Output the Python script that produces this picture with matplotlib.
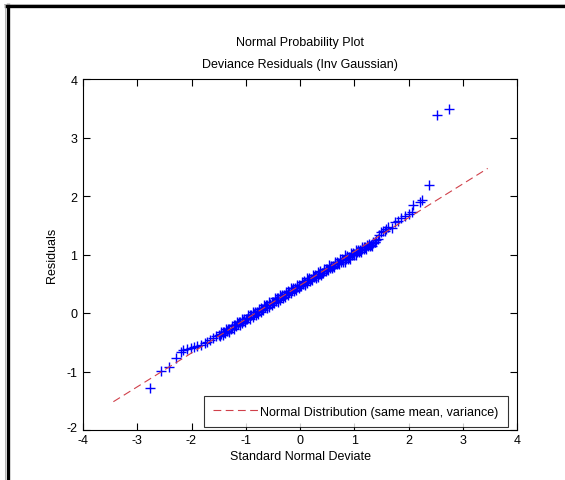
import numpy as np
import matplotlib.pyplot as plt
import matplotlib.transforms as mtransforms
from matplotlib.lines import Line2D

plt.rcParams['font.family'] = ['Liberation Sans', 'DejaVu Sans']
plt.rcParams['font.size'] = 9
plt.rcParams['axes.unicode_minus'] = False

# ---------------------------------------------------------
# data (standard normal deviate, residual)
# ---------------------------------------------------------
low_tail_x = [-2.77, -2.56, -2.41, -2.29, -2.19]
low_tail_y = [-1.28, -0.99, -0.93, -0.77, -0.66]

shelf_x = [-2.15, -2.08, -2.015, -1.95, -1.89, -1.83, -1.76, -1.71, -1.66, -1.60, -1.54]
shelf_y = [-0.63, -0.61, -0.60, -0.58, -0.56, -0.54, -0.51, -0.49, -0.47, -0.43, -0.40]

band_x = [-1.50, -1.45, -1.40, -1.35, -1.30, -1.25, -1.20, -1.15, -1.10, -1.05,
          -1.00, -0.95, -0.90, -0.85, -0.80, -0.75, -0.70, -0.65, -0.60, -0.55,
          -0.50, -0.45, -0.40, -0.35, -0.30, -0.25, -0.20, -0.15, -0.10, -0.05,
          0.00, 0.05, 0.10, 0.15, 0.20, 0.25, 0.30, 0.35, 0.40, 0.45,
          0.50, 0.55, 0.60, 0.65, 0.70, 0.75, 0.80, 0.85, 0.90, 0.95,
          1.00, 1.05, 1.10, 1.15, 1.20, 1.25, 1.30, 1.35, 1.40]
band_y = [-0.38, -0.36, -0.33, -0.31, -0.27, -0.25, -0.21, -0.19, -0.16, -0.14,
          -0.10, -0.08, -0.04, -0.02, 0.02, 0.04, 0.07, 0.10, 0.13, 0.15,
          0.19, 0.21, 0.25, 0.27, 0.31, 0.33, 0.36, 0.39, 0.42, 0.44,
          0.47, 0.50, 0.52, 0.56, 0.58, 0.61, 0.64, 0.66, 0.69, 0.72,
          0.75, 0.77, 0.80, 0.83, 0.85, 0.88, 0.91, 0.93, 0.96, 0.99,
          1.01, 1.04, 1.07, 1.09, 1.12, 1.15, 1.17, 1.20, 1.24]

band2_x = [-1.475, -1.425, -1.375, -1.325, -1.275, -1.225, -1.175, -1.125, -1.075, -1.025,
           -0.975, -0.925, -0.875, -0.825, -0.775, -0.725, -0.675, -0.625, -0.575, -0.525,
           -0.475, -0.425, -0.375, -0.325, -0.275, -0.225, -0.175, -0.125, -0.075, -0.025,
           0.025, 0.075, 0.125, 0.175, 0.225, 0.275, 0.325, 0.375, 0.425, 0.475,
           0.525, 0.575, 0.625, 0.675, 0.725, 0.775, 0.825, 0.875, 0.925, 0.975,
           1.025, 1.075, 1.125, 1.175, 1.225, 1.275, 1.325, 1.375]
band2_y = [-0.40, -0.33, -0.34, -0.27, -0.28, -0.21, -0.22, -0.15, -0.17, -0.10,
           -0.11, -0.03, -0.06, 0.02, -0.01, 0.08, 0.05, 0.14, 0.11, 0.19,
           0.17, 0.25, 0.23, 0.31, 0.28, 0.37, 0.34, 0.43, 0.40, 0.48,
           0.46, 0.54, 0.51, 0.60, 0.57, 0.65, 0.62, 0.71, 0.68, 0.76,
           0.73, 0.81, 0.78, 0.87, 0.83, 0.92, 0.88, 0.97, 0.93, 1.02,
           0.99, 1.08, 1.04, 1.13, 1.10, 1.18, 1.14, 1.21]

band3_x = [-1.4625, -1.4125, -1.3625, -1.3125, -1.2625, -1.2125, -1.1625, -1.1125, -1.0625, -1.0125,
           -0.9625, -0.9125, -0.8625, -0.8125, -0.7625, -0.7125, -0.6625, -0.6125, -0.5625, -0.5125,
           -0.4625, -0.4125, -0.3625, -0.3125, -0.2625, -0.2125, -0.1625, -0.1125, -0.0625, -0.0125,
           0.0375, 0.0875, 0.1375, 0.1875, 0.2375, 0.2875, 0.3375, 0.3875, 0.4375, 0.4875,
           0.5375, 0.5875, 0.6375, 0.6875, 0.7375, 0.7875, 0.8375, 0.8875, 0.9375, 0.9875,
           1.0375, 1.0875, 1.1375, 1.1875, 1.2375, 1.2875, 1.3375, 1.3875]
band3_y = [-0.33, -0.38, -0.28, -0.33, -0.22, -0.27, -0.16, -0.21, -0.10, -0.15,
           -0.04, -0.10, 0.01, -0.04, 0.07, 0.02, 0.13, 0.08, 0.19, 0.14,
           0.25, 0.19, 0.30, 0.25, 0.36, 0.31, 0.42, 0.37, 0.48, 0.42,
           0.53, 0.48, 0.59, 0.54, 0.65, 0.60, 0.70, 0.65, 0.76, 0.71,
           0.82, 0.77, 0.87, 0.83, 0.93, 0.88, 0.99, 0.93, 1.03, 0.99,
           1.08, 1.05, 1.13, 1.10, 1.17, 1.15, 1.21, 1.22]

up_tail_x = [1.43, 1.46, 1.49, 1.535, 1.56, 1.58, 1.63, 1.69, 1.75, 1.81, 1.87,
             1.935, 2.00, 2.06, 2.09, 2.21, 2.24, 2.38, 2.52, 2.75]
up_tail_y = [1.27, 1.33, 1.38, 1.41, 1.40, 1.44, 1.47, 1.45, 1.55, 1.58, 1.62,
             1.66, 1.69, 1.72, 1.85, 1.89, 1.94, 2.18, 3.38, 3.49]

# reference normal line: same mean, variance
fit_x = [-3.44, 3.46]
fit_mean = 0.472
fit_std = 0.578

x = np.concatenate([low_tail_x, shelf_x, band_x, band2_x, band3_x, up_tail_x])
y = np.concatenate([low_tail_y, shelf_y, band_y, band2_y, band3_y, up_tail_y])

fig = plt.figure(figsize=(5.65, 4.81), dpi=100)
ax = fig.add_axes([83 / 565, 1 - 431 / 481, 434 / 565, 351 / 481])

ax.plot(x, y, '+', color='blue', markersize=7, markeredgewidth=1.0, zorder=3)
fx = np.array(fit_x)
ax.plot(fx, fit_mean + fit_std * fx, color='#d0404a', linewidth=0.8,
        dashes=(7, 4), label='Normal Distribution (same mean, variance)', zorder=4)

ax.set_xlim(-4, 4)
ax.set_ylim(-2, 4)
ax.set_xticks(range(-4, 5))
ax.set_yticks(range(-2, 5))
ax.tick_params(direction='in', length=5, width=0.8, top=True, right=True)
ax.tick_params(axis='x', pad=3)
ax.tick_params(axis='y', pad=4)
for s in ax.spines.values():
    s.set_linewidth(0.8)

# nudge the lowest y label up so it clears the "-4" below it
fig.canvas.draw()
lab = ax.get_yticklabels()[0]
lab.set_transform(lab.get_transform() + mtransforms.ScaledTranslation(0, 3 / 100, fig.dpi_scale_trans))

ax.set_xlabel('Standard Normal Deviate', labelpad=3)
ax.set_ylabel('Residuals', labelpad=6)

leg = ax.legend(loc='lower right', bbox_to_anchor=((508 - 83) / 434, (431 - 428) / 351),
                frameon=True, fancybox=False, handlelength=3.6, handletextpad=0.2,
                borderpad=0.75, borderaxespad=0)
leg.get_frame().set_edgecolor('black')
leg.get_frame().set_linewidth(0.8)

fig.text(300 / 565, 1 - 43 / 481, 'Normal Probability Plot', ha='center', va='center')
fig.text(300 / 565, 1 - 65 / 481, 'Deviance Residuals (Inv Gaussian)', ha='center', va='center')

# outer frame (top and left edges only)
fig.add_artist(Line2D([6 / 565, 1], [1 - 7 / 481, 1 - 7 / 481], transform=fig.transFigure,
                      color='black', linewidth=2.4))
fig.add_artist(Line2D([8 / 565, 8 / 565], [0, 1 - 6 / 481], transform=fig.transFigure,
                      color='black', linewidth=2.4))
fig.add_artist(Line2D([4 / 565, 1], [1 - 4.5 / 481, 1 - 4.5 / 481], transform=fig.transFigure,
                      color='#aaaaaa', linewidth=0.6))
fig.add_artist(Line2D([5 / 565, 5 / 565], [0, 1 - 4.5 / 481], transform=fig.transFigure,
                      color='#aaaaaa', linewidth=0.6))

fig.savefig('out.png', dpi=100)
